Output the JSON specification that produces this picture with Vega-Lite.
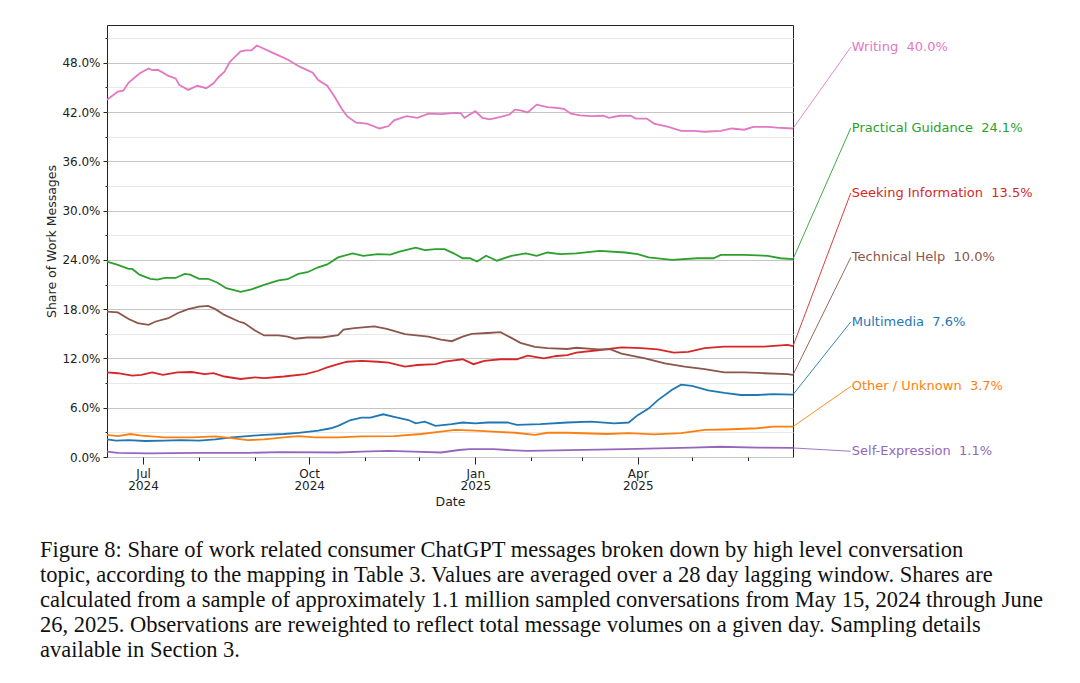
{
  "$schema": "https://vega.github.io/schema/vega-lite/v6.json",
  "width": 686,
  "height": 432,
  "autosize": {"type": "none"},
  "padding": {"left": 107, "top": 25, "right": 287, "bottom": 226},
  "background": "white",
  "config": {
    "view": {"stroke": "#222", "strokeWidth": 1},
    "font": "DejaVu Sans",
    "axis": {"labelFont": "DejaVu Sans", "titleFont": "DejaVu Sans", "labelColor": "#222", "titleColor": "#222", "tickColor": "#222", "domainColor": "#222", "titleFontWeight": "normal"}
  },
  "title": {
    "text": [
      "Figure 8: Share of work related consumer ChatGPT messages broken down by high level conversation",
      "topic, according to the mapping in Table 3. Values are averaged over a 28 day lagging window. Shares are",
      "calculated from a sample of approximately 1.1 million sampled conversations from May 15, 2024 through June",
      "26, 2025. Observations are reweighted to reflect total message volumes on a given day. Sampling details",
      "available in Section 3."
    ],
    "orient": "bottom",
    "anchor": "start",
    "frame": "group",
    "font": "Liberation Serif",
    "fontSize": 22.5,
    "fontWeight": "normal",
    "lineHeight": 25,
    "color": "#111",
    "dx": -67,
    "offset": 31
  },
  "datasets": {
    "series": [
      {"date": "2024-06-11", "topic": "Writing", "share": 43.5},
      {"date": "2024-06-17", "topic": "Writing", "share": 44.5},
      {"date": "2024-06-20", "topic": "Writing", "share": 44.6},
      {"date": "2024-06-23", "topic": "Writing", "share": 45.6},
      {"date": "2024-06-29", "topic": "Writing", "share": 46.7},
      {"date": "2024-07-04", "topic": "Writing", "share": 47.3},
      {"date": "2024-07-06", "topic": "Writing", "share": 47.1},
      {"date": "2024-07-09", "topic": "Writing", "share": 47.15},
      {"date": "2024-07-12", "topic": "Writing", "share": 46.8},
      {"date": "2024-07-15", "topic": "Writing", "share": 46.4},
      {"date": "2024-07-19", "topic": "Writing", "share": 46.1},
      {"date": "2024-07-21", "topic": "Writing", "share": 45.3},
      {"date": "2024-07-26", "topic": "Writing", "share": 44.7},
      {"date": "2024-07-31", "topic": "Writing", "share": 45.2},
      {"date": "2024-08-05", "topic": "Writing", "share": 44.9},
      {"date": "2024-08-09", "topic": "Writing", "share": 45.5},
      {"date": "2024-08-12", "topic": "Writing", "share": 46.3},
      {"date": "2024-08-15", "topic": "Writing", "share": 46.9},
      {"date": "2024-08-18", "topic": "Writing", "share": 48.1},
      {"date": "2024-08-24", "topic": "Writing", "share": 49.4},
      {"date": "2024-08-27", "topic": "Writing", "share": 49.5},
      {"date": "2024-08-30", "topic": "Writing", "share": 49.5},
      {"date": "2024-09-02", "topic": "Writing", "share": 50.1},
      {"date": "2024-09-05", "topic": "Writing", "share": 49.8},
      {"date": "2024-09-10", "topic": "Writing", "share": 49.3},
      {"date": "2024-09-14", "topic": "Writing", "share": 48.9},
      {"date": "2024-09-19", "topic": "Writing", "share": 48.4},
      {"date": "2024-09-25", "topic": "Writing", "share": 47.6},
      {"date": "2024-09-29", "topic": "Writing", "share": 47.2},
      {"date": "2024-10-03", "topic": "Writing", "share": 46.8},
      {"date": "2024-10-06", "topic": "Writing", "share": 45.9},
      {"date": "2024-10-11", "topic": "Writing", "share": 45.2},
      {"date": "2024-10-15", "topic": "Writing", "share": 43.9},
      {"date": "2024-10-19", "topic": "Writing", "share": 42.4},
      {"date": "2024-10-22", "topic": "Writing", "share": 41.5},
      {"date": "2024-10-27", "topic": "Writing", "share": 40.7},
      {"date": "2024-11-02", "topic": "Writing", "share": 40.6},
      {"date": "2024-11-09", "topic": "Writing", "share": 40.0},
      {"date": "2024-11-14", "topic": "Writing", "share": 40.3},
      {"date": "2024-11-17", "topic": "Writing", "share": 41.0},
      {"date": "2024-11-24", "topic": "Writing", "share": 41.5},
      {"date": "2024-11-30", "topic": "Writing", "share": 41.3},
      {"date": "2024-12-06", "topic": "Writing", "share": 41.8},
      {"date": "2024-12-13", "topic": "Writing", "share": 41.75},
      {"date": "2024-12-21", "topic": "Writing", "share": 41.9},
      {"date": "2024-12-24", "topic": "Writing", "share": 41.85},
      {"date": "2024-12-26", "topic": "Writing", "share": 41.3},
      {"date": "2025-01-01", "topic": "Writing", "share": 42.1},
      {"date": "2025-01-05", "topic": "Writing", "share": 41.3},
      {"date": "2025-01-09", "topic": "Writing", "share": 41.1},
      {"date": "2025-01-15", "topic": "Writing", "share": 41.4},
      {"date": "2025-01-20", "topic": "Writing", "share": 41.7},
      {"date": "2025-01-23", "topic": "Writing", "share": 42.3},
      {"date": "2025-01-26", "topic": "Writing", "share": 42.2},
      {"date": "2025-01-30", "topic": "Writing", "share": 41.95},
      {"date": "2025-02-04", "topic": "Writing", "share": 42.9},
      {"date": "2025-02-10", "topic": "Writing", "share": 42.6},
      {"date": "2025-02-15", "topic": "Writing", "share": 42.5},
      {"date": "2025-02-19", "topic": "Writing", "share": 42.4},
      {"date": "2025-02-23", "topic": "Writing", "share": 41.8},
      {"date": "2025-02-28", "topic": "Writing", "share": 41.6},
      {"date": "2025-03-06", "topic": "Writing", "share": 41.5},
      {"date": "2025-03-13", "topic": "Writing", "share": 41.55},
      {"date": "2025-03-16", "topic": "Writing", "share": 41.3},
      {"date": "2025-03-22", "topic": "Writing", "share": 41.55},
      {"date": "2025-03-28", "topic": "Writing", "share": 41.55},
      {"date": "2025-03-31", "topic": "Writing", "share": 41.2},
      {"date": "2025-04-06", "topic": "Writing", "share": 41.2},
      {"date": "2025-04-10", "topic": "Writing", "share": 40.6},
      {"date": "2025-04-18", "topic": "Writing", "share": 40.2},
      {"date": "2025-04-25", "topic": "Writing", "share": 39.7},
      {"date": "2025-05-02", "topic": "Writing", "share": 39.7},
      {"date": "2025-05-08", "topic": "Writing", "share": 39.6},
      {"date": "2025-05-17", "topic": "Writing", "share": 39.7},
      {"date": "2025-05-23", "topic": "Writing", "share": 40.0},
      {"date": "2025-05-30", "topic": "Writing", "share": 39.85},
      {"date": "2025-06-04", "topic": "Writing", "share": 40.2},
      {"date": "2025-06-12", "topic": "Writing", "share": 40.2},
      {"date": "2025-06-17", "topic": "Writing", "share": 40.1},
      {"date": "2025-06-26", "topic": "Writing", "share": 40.0},

      {"date": "2024-06-11", "topic": "Practical Guidance", "share": 23.8},
      {"date": "2024-06-17", "topic": "Practical Guidance", "share": 23.4},
      {"date": "2024-06-23", "topic": "Practical Guidance", "share": 22.9},
      {"date": "2024-06-25", "topic": "Practical Guidance", "share": 22.9},
      {"date": "2024-06-29", "topic": "Practical Guidance", "share": 22.2},
      {"date": "2024-07-05", "topic": "Practical Guidance", "share": 21.7},
      {"date": "2024-07-09", "topic": "Practical Guidance", "share": 21.6},
      {"date": "2024-07-13", "topic": "Practical Guidance", "share": 21.8},
      {"date": "2024-07-19", "topic": "Practical Guidance", "share": 21.8},
      {"date": "2024-07-24", "topic": "Practical Guidance", "share": 22.3},
      {"date": "2024-07-27", "topic": "Practical Guidance", "share": 22.2},
      {"date": "2024-08-01", "topic": "Practical Guidance", "share": 21.7},
      {"date": "2024-08-06", "topic": "Practical Guidance", "share": 21.7},
      {"date": "2024-08-11", "topic": "Practical Guidance", "share": 21.25},
      {"date": "2024-08-16", "topic": "Practical Guidance", "share": 20.55},
      {"date": "2024-08-21", "topic": "Practical Guidance", "share": 20.3},
      {"date": "2024-08-24", "topic": "Practical Guidance", "share": 20.1},
      {"date": "2024-08-30", "topic": "Practical Guidance", "share": 20.4},
      {"date": "2024-09-06", "topic": "Practical Guidance", "share": 20.95},
      {"date": "2024-09-14", "topic": "Practical Guidance", "share": 21.5},
      {"date": "2024-09-19", "topic": "Practical Guidance", "share": 21.65},
      {"date": "2024-09-25", "topic": "Practical Guidance", "share": 22.3},
      {"date": "2024-09-30", "topic": "Practical Guidance", "share": 22.5},
      {"date": "2024-10-06", "topic": "Practical Guidance", "share": 23.1},
      {"date": "2024-10-11", "topic": "Practical Guidance", "share": 23.45},
      {"date": "2024-10-17", "topic": "Practical Guidance", "share": 24.3},
      {"date": "2024-10-25", "topic": "Practical Guidance", "share": 24.8},
      {"date": "2024-10-31", "topic": "Practical Guidance", "share": 24.5},
      {"date": "2024-11-08", "topic": "Practical Guidance", "share": 24.7},
      {"date": "2024-11-15", "topic": "Practical Guidance", "share": 24.65},
      {"date": "2024-11-20", "topic": "Practical Guidance", "share": 25.0},
      {"date": "2024-11-29", "topic": "Practical Guidance", "share": 25.5},
      {"date": "2024-12-04", "topic": "Practical Guidance", "share": 25.2},
      {"date": "2024-12-10", "topic": "Practical Guidance", "share": 25.3},
      {"date": "2024-12-15", "topic": "Practical Guidance", "share": 25.3},
      {"date": "2024-12-20", "topic": "Practical Guidance", "share": 24.8},
      {"date": "2024-12-25", "topic": "Practical Guidance", "share": 24.2},
      {"date": "2024-12-29", "topic": "Practical Guidance", "share": 24.2},
      {"date": "2025-01-02", "topic": "Practical Guidance", "share": 23.8},
      {"date": "2025-01-07", "topic": "Practical Guidance", "share": 24.5},
      {"date": "2025-01-13", "topic": "Practical Guidance", "share": 23.9},
      {"date": "2025-01-21", "topic": "Practical Guidance", "share": 24.5},
      {"date": "2025-01-29", "topic": "Practical Guidance", "share": 24.8},
      {"date": "2025-02-04", "topic": "Practical Guidance", "share": 24.5},
      {"date": "2025-02-10", "topic": "Practical Guidance", "share": 24.9},
      {"date": "2025-02-17", "topic": "Practical Guidance", "share": 24.7},
      {"date": "2025-02-26", "topic": "Practical Guidance", "share": 24.8},
      {"date": "2025-03-11", "topic": "Practical Guidance", "share": 25.1},
      {"date": "2025-03-25", "topic": "Practical Guidance", "share": 24.9},
      {"date": "2025-04-01", "topic": "Practical Guidance", "share": 24.7},
      {"date": "2025-04-07", "topic": "Practical Guidance", "share": 24.3},
      {"date": "2025-04-20", "topic": "Practical Guidance", "share": 24.0},
      {"date": "2025-05-04", "topic": "Practical Guidance", "share": 24.2},
      {"date": "2025-05-13", "topic": "Practical Guidance", "share": 24.2},
      {"date": "2025-05-17", "topic": "Practical Guidance", "share": 24.6},
      {"date": "2025-05-30", "topic": "Practical Guidance", "share": 24.6},
      {"date": "2025-06-12", "topic": "Practical Guidance", "share": 24.5},
      {"date": "2025-06-19", "topic": "Practical Guidance", "share": 24.2},
      {"date": "2025-06-26", "topic": "Practical Guidance", "share": 24.1},

      {"date": "2024-06-11", "topic": "Seeking Information", "share": 10.3},
      {"date": "2024-06-17", "topic": "Seeking Information", "share": 10.2},
      {"date": "2024-06-25", "topic": "Seeking Information", "share": 9.9},
      {"date": "2024-06-30", "topic": "Seeking Information", "share": 10.0},
      {"date": "2024-07-06", "topic": "Seeking Information", "share": 10.3},
      {"date": "2024-07-12", "topic": "Seeking Information", "share": 10.0},
      {"date": "2024-07-20", "topic": "Seeking Information", "share": 10.3},
      {"date": "2024-07-28", "topic": "Seeking Information", "share": 10.35},
      {"date": "2024-08-04", "topic": "Seeking Information", "share": 10.1},
      {"date": "2024-08-09", "topic": "Seeking Information", "share": 10.2},
      {"date": "2024-08-15", "topic": "Seeking Information", "share": 9.8},
      {"date": "2024-08-24", "topic": "Seeking Information", "share": 9.5},
      {"date": "2024-09-01", "topic": "Seeking Information", "share": 9.7},
      {"date": "2024-09-06", "topic": "Seeking Information", "share": 9.6},
      {"date": "2024-09-17", "topic": "Seeking Information", "share": 9.8},
      {"date": "2024-09-29", "topic": "Seeking Information", "share": 10.1},
      {"date": "2024-10-06", "topic": "Seeking Information", "share": 10.5},
      {"date": "2024-10-11", "topic": "Seeking Information", "share": 10.9},
      {"date": "2024-10-17", "topic": "Seeking Information", "share": 11.3},
      {"date": "2024-10-22", "topic": "Seeking Information", "share": 11.6},
      {"date": "2024-10-30", "topic": "Seeking Information", "share": 11.7},
      {"date": "2024-11-08", "topic": "Seeking Information", "share": 11.6},
      {"date": "2024-11-14", "topic": "Seeking Information", "share": 11.5},
      {"date": "2024-11-23", "topic": "Seeking Information", "share": 11.0},
      {"date": "2024-11-30", "topic": "Seeking Information", "share": 11.2},
      {"date": "2024-12-10", "topic": "Seeking Information", "share": 11.3},
      {"date": "2024-12-15", "topic": "Seeking Information", "share": 11.6},
      {"date": "2024-12-25", "topic": "Seeking Information", "share": 11.9},
      {"date": "2024-12-31", "topic": "Seeking Information", "share": 11.3},
      {"date": "2025-01-06", "topic": "Seeking Information", "share": 11.7},
      {"date": "2025-01-15", "topic": "Seeking Information", "share": 11.9},
      {"date": "2025-01-24", "topic": "Seeking Information", "share": 11.9},
      {"date": "2025-01-30", "topic": "Seeking Information", "share": 12.35},
      {"date": "2025-02-08", "topic": "Seeking Information", "share": 12.0},
      {"date": "2025-02-15", "topic": "Seeking Information", "share": 12.3},
      {"date": "2025-02-21", "topic": "Seeking Information", "share": 12.4},
      {"date": "2025-02-26", "topic": "Seeking Information", "share": 12.7},
      {"date": "2025-03-10", "topic": "Seeking Information", "share": 13.0},
      {"date": "2025-03-23", "topic": "Seeking Information", "share": 13.35},
      {"date": "2025-04-03", "topic": "Seeking Information", "share": 13.25},
      {"date": "2025-04-12", "topic": "Seeking Information", "share": 13.1},
      {"date": "2025-04-21", "topic": "Seeking Information", "share": 12.7},
      {"date": "2025-04-29", "topic": "Seeking Information", "share": 12.8},
      {"date": "2025-05-08", "topic": "Seeking Information", "share": 13.25},
      {"date": "2025-05-19", "topic": "Seeking Information", "share": 13.45},
      {"date": "2025-05-30", "topic": "Seeking Information", "share": 13.45},
      {"date": "2025-06-10", "topic": "Seeking Information", "share": 13.45},
      {"date": "2025-06-23", "topic": "Seeking Information", "share": 13.65},
      {"date": "2025-06-26", "topic": "Seeking Information", "share": 13.5},

      {"date": "2024-06-11", "topic": "Technical Help", "share": 17.7},
      {"date": "2024-06-17", "topic": "Technical Help", "share": 17.6},
      {"date": "2024-06-23", "topic": "Technical Help", "share": 16.8},
      {"date": "2024-06-28", "topic": "Technical Help", "share": 16.3},
      {"date": "2024-07-04", "topic": "Technical Help", "share": 16.1},
      {"date": "2024-07-08", "topic": "Technical Help", "share": 16.5},
      {"date": "2024-07-15", "topic": "Technical Help", "share": 16.9},
      {"date": "2024-07-20", "topic": "Technical Help", "share": 17.5},
      {"date": "2024-07-26", "topic": "Technical Help", "share": 18.0},
      {"date": "2024-08-01", "topic": "Technical Help", "share": 18.3},
      {"date": "2024-08-06", "topic": "Technical Help", "share": 18.4},
      {"date": "2024-08-10", "topic": "Technical Help", "share": 18.0},
      {"date": "2024-08-15", "topic": "Technical Help", "share": 17.3},
      {"date": "2024-08-23", "topic": "Technical Help", "share": 16.5},
      {"date": "2024-08-26", "topic": "Technical Help", "share": 16.3},
      {"date": "2024-09-01", "topic": "Technical Help", "share": 15.4},
      {"date": "2024-09-06", "topic": "Technical Help", "share": 14.8},
      {"date": "2024-09-14", "topic": "Technical Help", "share": 14.8},
      {"date": "2024-09-19", "topic": "Technical Help", "share": 14.65},
      {"date": "2024-09-23", "topic": "Technical Help", "share": 14.4},
      {"date": "2024-09-30", "topic": "Technical Help", "share": 14.55},
      {"date": "2024-10-08", "topic": "Technical Help", "share": 14.55},
      {"date": "2024-10-17", "topic": "Technical Help", "share": 14.85},
      {"date": "2024-10-20", "topic": "Technical Help", "share": 15.5},
      {"date": "2024-10-26", "topic": "Technical Help", "share": 15.7},
      {"date": "2024-11-06", "topic": "Technical Help", "share": 15.9},
      {"date": "2024-11-13", "topic": "Technical Help", "share": 15.6},
      {"date": "2024-11-23", "topic": "Technical Help", "share": 14.95},
      {"date": "2024-12-06", "topic": "Technical Help", "share": 14.65},
      {"date": "2024-12-13", "topic": "Technical Help", "share": 14.3},
      {"date": "2024-12-19", "topic": "Technical Help", "share": 14.1},
      {"date": "2024-12-25", "topic": "Technical Help", "share": 14.65},
      {"date": "2024-12-30", "topic": "Technical Help", "share": 15.0},
      {"date": "2025-01-08", "topic": "Technical Help", "share": 15.1},
      {"date": "2025-01-15", "topic": "Technical Help", "share": 15.2},
      {"date": "2025-01-21", "topic": "Technical Help", "share": 14.5},
      {"date": "2025-01-26", "topic": "Technical Help", "share": 13.9},
      {"date": "2025-02-03", "topic": "Technical Help", "share": 13.4},
      {"date": "2025-02-10", "topic": "Technical Help", "share": 13.25},
      {"date": "2025-02-21", "topic": "Technical Help", "share": 13.15},
      {"date": "2025-02-26", "topic": "Technical Help", "share": 13.3},
      {"date": "2025-03-10", "topic": "Technical Help", "share": 13.1},
      {"date": "2025-03-17", "topic": "Technical Help", "share": 13.1},
      {"date": "2025-03-23", "topic": "Technical Help", "share": 12.6},
      {"date": "2025-04-05", "topic": "Technical Help", "share": 12.0},
      {"date": "2025-04-16", "topic": "Technical Help", "share": 11.4},
      {"date": "2025-04-27", "topic": "Technical Help", "share": 11.0},
      {"date": "2025-05-08", "topic": "Technical Help", "share": 10.7},
      {"date": "2025-05-19", "topic": "Technical Help", "share": 10.3},
      {"date": "2025-05-30", "topic": "Technical Help", "share": 10.3},
      {"date": "2025-06-10", "topic": "Technical Help", "share": 10.2},
      {"date": "2025-06-23", "topic": "Technical Help", "share": 10.1},
      {"date": "2025-06-26", "topic": "Technical Help", "share": 10.0},

      {"date": "2024-06-11", "topic": "Multimedia", "share": 2.15},
      {"date": "2024-06-16", "topic": "Multimedia", "share": 2.0},
      {"date": "2024-06-23", "topic": "Multimedia", "share": 2.05},
      {"date": "2024-07-02", "topic": "Multimedia", "share": 1.95},
      {"date": "2024-07-13", "topic": "Multimedia", "share": 2.0},
      {"date": "2024-07-22", "topic": "Multimedia", "share": 2.05},
      {"date": "2024-08-01", "topic": "Multimedia", "share": 2.0},
      {"date": "2024-08-10", "topic": "Multimedia", "share": 2.15},
      {"date": "2024-08-19", "topic": "Multimedia", "share": 2.4},
      {"date": "2024-08-28", "topic": "Multimedia", "share": 2.55},
      {"date": "2024-09-06", "topic": "Multimedia", "share": 2.7},
      {"date": "2024-09-17", "topic": "Multimedia", "share": 2.8},
      {"date": "2024-09-25", "topic": "Multimedia", "share": 2.95},
      {"date": "2024-10-06", "topic": "Multimedia", "share": 3.2},
      {"date": "2024-10-13", "topic": "Multimedia", "share": 3.5},
      {"date": "2024-10-17", "topic": "Multimedia", "share": 3.8},
      {"date": "2024-10-24", "topic": "Multimedia", "share": 4.5},
      {"date": "2024-10-30", "topic": "Multimedia", "share": 4.8},
      {"date": "2024-11-04", "topic": "Multimedia", "share": 4.8},
      {"date": "2024-11-11", "topic": "Multimedia", "share": 5.2},
      {"date": "2024-11-17", "topic": "Multimedia", "share": 4.9},
      {"date": "2024-11-25", "topic": "Multimedia", "share": 4.5},
      {"date": "2024-11-29", "topic": "Multimedia", "share": 4.1},
      {"date": "2024-12-04", "topic": "Multimedia", "share": 4.3},
      {"date": "2024-12-10", "topic": "Multimedia", "share": 3.8},
      {"date": "2024-12-19", "topic": "Multimedia", "share": 4.0},
      {"date": "2024-12-25", "topic": "Multimedia", "share": 4.2},
      {"date": "2025-01-01", "topic": "Multimedia", "share": 4.1},
      {"date": "2025-01-08", "topic": "Multimedia", "share": 4.2},
      {"date": "2025-01-19", "topic": "Multimedia", "share": 4.2},
      {"date": "2025-01-24", "topic": "Multimedia", "share": 3.9},
      {"date": "2025-02-06", "topic": "Multimedia", "share": 4.0},
      {"date": "2025-02-21", "topic": "Multimedia", "share": 4.2},
      {"date": "2025-03-06", "topic": "Multimedia", "share": 4.3},
      {"date": "2025-03-19", "topic": "Multimedia", "share": 4.1},
      {"date": "2025-03-27", "topic": "Multimedia", "share": 4.2},
      {"date": "2025-04-01", "topic": "Multimedia", "share": 5.1},
      {"date": "2025-04-07", "topic": "Multimedia", "share": 5.9},
      {"date": "2025-04-12", "topic": "Multimedia", "share": 6.9},
      {"date": "2025-04-20", "topic": "Multimedia", "share": 8.2},
      {"date": "2025-04-25", "topic": "Multimedia", "share": 8.8},
      {"date": "2025-05-01", "topic": "Multimedia", "share": 8.65},
      {"date": "2025-05-10", "topic": "Multimedia", "share": 8.1},
      {"date": "2025-05-19", "topic": "Multimedia", "share": 7.8},
      {"date": "2025-05-28", "topic": "Multimedia", "share": 7.55},
      {"date": "2025-06-06", "topic": "Multimedia", "share": 7.55},
      {"date": "2025-06-15", "topic": "Multimedia", "share": 7.65},
      {"date": "2025-06-26", "topic": "Multimedia", "share": 7.6},

      {"date": "2024-06-11", "topic": "Other / Unknown", "share": 2.7},
      {"date": "2024-06-17", "topic": "Other / Unknown", "share": 2.55},
      {"date": "2024-06-24", "topic": "Other / Unknown", "share": 2.8},
      {"date": "2024-06-30", "topic": "Other / Unknown", "share": 2.6},
      {"date": "2024-07-13", "topic": "Other / Unknown", "share": 2.4},
      {"date": "2024-07-28", "topic": "Other / Unknown", "share": 2.4},
      {"date": "2024-08-10", "topic": "Other / Unknown", "share": 2.5},
      {"date": "2024-08-19", "topic": "Other / Unknown", "share": 2.3},
      {"date": "2024-08-28", "topic": "Other / Unknown", "share": 2.05},
      {"date": "2024-09-06", "topic": "Other / Unknown", "share": 2.15},
      {"date": "2024-09-17", "topic": "Other / Unknown", "share": 2.4},
      {"date": "2024-09-25", "topic": "Other / Unknown", "share": 2.55},
      {"date": "2024-10-04", "topic": "Other / Unknown", "share": 2.4},
      {"date": "2024-10-17", "topic": "Other / Unknown", "share": 2.4},
      {"date": "2024-10-30", "topic": "Other / Unknown", "share": 2.5},
      {"date": "2024-11-17", "topic": "Other / Unknown", "share": 2.55},
      {"date": "2024-12-02", "topic": "Other / Unknown", "share": 2.8},
      {"date": "2024-12-13", "topic": "Other / Unknown", "share": 3.1},
      {"date": "2024-12-21", "topic": "Other / Unknown", "share": 3.3},
      {"date": "2025-01-01", "topic": "Other / Unknown", "share": 3.2},
      {"date": "2025-01-11", "topic": "Other / Unknown", "share": 3.1},
      {"date": "2025-01-23", "topic": "Other / Unknown", "share": 2.95},
      {"date": "2025-02-03", "topic": "Other / Unknown", "share": 2.7},
      {"date": "2025-02-10", "topic": "Other / Unknown", "share": 2.95},
      {"date": "2025-02-21", "topic": "Other / Unknown", "share": 2.95},
      {"date": "2025-03-15", "topic": "Other / Unknown", "share": 2.8},
      {"date": "2025-03-27", "topic": "Other / Unknown", "share": 2.9},
      {"date": "2025-04-10", "topic": "Other / Unknown", "share": 2.75},
      {"date": "2025-04-25", "topic": "Other / Unknown", "share": 2.9},
      {"date": "2025-05-08", "topic": "Other / Unknown", "share": 3.3},
      {"date": "2025-05-19", "topic": "Other / Unknown", "share": 3.35},
      {"date": "2025-06-06", "topic": "Other / Unknown", "share": 3.5},
      {"date": "2025-06-15", "topic": "Other / Unknown", "share": 3.7},
      {"date": "2025-06-26", "topic": "Other / Unknown", "share": 3.7},

      {"date": "2024-06-11", "topic": "Self-Expression", "share": 0.65},
      {"date": "2024-06-17", "topic": "Self-Expression", "share": 0.5},
      {"date": "2024-07-04", "topic": "Self-Expression", "share": 0.45},
      {"date": "2024-08-01", "topic": "Self-Expression", "share": 0.5},
      {"date": "2024-08-28", "topic": "Self-Expression", "share": 0.5},
      {"date": "2024-09-15", "topic": "Self-Expression", "share": 0.6},
      {"date": "2024-10-17", "topic": "Self-Expression", "share": 0.55},
      {"date": "2024-10-30", "topic": "Self-Expression", "share": 0.65},
      {"date": "2024-11-14", "topic": "Self-Expression", "share": 0.75},
      {"date": "2024-11-28", "topic": "Self-Expression", "share": 0.65},
      {"date": "2024-12-13", "topic": "Self-Expression", "share": 0.55},
      {"date": "2024-12-23", "topic": "Self-Expression", "share": 0.85},
      {"date": "2024-12-29", "topic": "Self-Expression", "share": 0.95},
      {"date": "2025-01-11", "topic": "Self-Expression", "share": 0.95},
      {"date": "2025-01-19", "topic": "Self-Expression", "share": 0.85},
      {"date": "2025-01-30", "topic": "Self-Expression", "share": 0.75},
      {"date": "2025-02-15", "topic": "Self-Expression", "share": 0.8},
      {"date": "2025-03-25", "topic": "Self-Expression", "share": 0.95},
      {"date": "2025-05-01", "topic": "Self-Expression", "share": 1.15},
      {"date": "2025-05-17", "topic": "Self-Expression", "share": 1.25},
      {"date": "2025-06-06", "topic": "Self-Expression", "share": 1.15},
      {"date": "2025-06-26", "topic": "Self-Expression", "share": 1.1}
    ],
    "labels": [
      {"topic": "Writing", "label": "Writing \u00a040.0%", "end_date": "2025-06-26", "end_share": 40.0, "label_date": "2025-07-28", "label_share": 49.9},
      {"topic": "Practical Guidance", "label": "Practical Guidance \u00a024.1%", "end_date": "2025-06-26", "end_share": 24.1, "label_date": "2025-07-28", "label_share": 40.05},
      {"topic": "Seeking Information", "label": "Seeking Information \u00a013.5%", "end_date": "2025-06-26", "end_share": 13.5, "label_date": "2025-07-28", "label_share": 32.15},
      {"topic": "Technical Help", "label": "Technical Help \u00a010.0%", "end_date": "2025-06-26", "end_share": 10.0, "label_date": "2025-07-28", "label_share": 24.3},
      {"topic": "Multimedia", "label": "Multimedia \u00a07.6%", "end_date": "2025-06-26", "end_share": 7.6, "label_date": "2025-07-28", "label_share": 16.45},
      {"topic": "Other / Unknown", "label": "Other / Unknown \u00a03.7%", "end_date": "2025-06-26", "end_share": 3.7, "label_date": "2025-07-28", "label_share": 8.6},
      {"topic": "Self-Expression", "label": "Self-Expression \u00a01.1%", "end_date": "2025-06-26", "end_share": 1.1, "label_date": "2025-07-28", "label_share": 0.7}
    ]
  },
  "resolve": {"axis": {"x": "independent", "y": "independent"}},
  "layer": [
    {
      "data": {"name": "series"},
      "mark": {"type": "line", "strokeWidth": 1.8, "interpolate": "linear"},
      "encoding": {
        "x": {
          "field": "date", "type": "temporal",
          "scale": {"type": "utc", "domain": [{"year": 2024, "month": 6, "date": 11, "utc": true}, {"year": 2025, "month": 6, "date": 26, "utc": true}], "nice": false},
          "axis": {
            "orient": "bottom",
            "title": "Date", "titleFontSize": 12.5, "titlePadding": 4,
            "values": [
              {"year": 2024, "month": 7, "date": 1, "utc": true},
              {"year": 2024, "month": 10, "date": 1, "utc": true},
              {"year": 2025, "month": 1, "date": 1, "utc": true},
              {"year": 2025, "month": 4, "date": 1, "utc": true}
            ],
            "labelExpr": "[utcFormat(datum.value, '%b'), utcFormat(datum.value, '%Y')]",
            "labelFontSize": 12, "labelLineHeight": 12, "labelPadding": 4,
            "tickSize": 7, "grid": false, "domain": false
          }
        },
        "y": {
          "field": "share", "type": "quantitative",
          "scale": {"domain": [0, 52.6], "nice": false, "zero": true},
          "axis": {
            "orient": "left",
            "title": "Share of Work Messages", "titleFontSize": 12.5, "titlePadding": 3,
            "values": [0, 6, 12, 18, 24, 30, 36, 42, 48],
            "labelExpr": "format(datum.value, '.1f') + '%'",
            "labelFontSize": 12, "labelPadding": 3,
            "tickSize": 4, "grid": true, "gridColor": "#c4c4c4", "gridWidth": 1, "domain": false
          }
        },
        "color": {
          "field": "topic", "type": "nominal", "legend": null,
          "scale": {
            "domain": ["Multimedia", "Other / Unknown", "Practical Guidance", "Seeking Information", "Self-Expression", "Technical Help", "Writing"],
            "range": ["#1f77b4", "#ff7f0e", "#2ca02c", "#d62728", "#9467bd", "#8c564b", "#e377c2"]
          }
        }
      }
    },
    {
      "data": {"name": "labels"},
      "mark": {"type": "rule", "strokeWidth": 0.9},
      "encoding": {
        "x": {
          "field": "end_date", "type": "temporal",
          "scale": {"type": "utc", "domain": [{"year": 2024, "month": 6, "date": 11, "utc": true}, {"year": 2025, "month": 6, "date": 26, "utc": true}], "nice": false},
          "axis": {
            "orient": "bottom", "title": null, "labels": false, "domain": false, "grid": false, "tickSize": 3.5,
            "values": [
              {"year": 2024, "month": 8, "date": 1, "utc": true},
              {"year": 2024, "month": 9, "date": 1, "utc": true},
              {"year": 2024, "month": 11, "date": 1, "utc": true},
              {"year": 2024, "month": 12, "date": 1, "utc": true},
              {"year": 2025, "month": 2, "date": 1, "utc": true},
              {"year": 2025, "month": 3, "date": 1, "utc": true},
              {"year": 2025, "month": 5, "date": 1, "utc": true},
              {"year": 2025, "month": 6, "date": 1, "utc": true}
            ]
          }
        },
        "x2": {"field": "label_date"},
        "y": {
          "field": "end_share", "type": "quantitative",
          "scale": {"domain": [0, 52.6], "nice": false},
          "axis": {
            "orient": "left", "title": null, "labels": false, "domain": false, "tickSize": 2,
            "values": [3, 9, 15, 21, 27, 33, 39, 45, 51],
            "grid": true, "gridColor": "#e8e8e8", "gridWidth": 1
          }
        },
        "y2": {"field": "label_share"},
        "color": {"field": "topic", "type": "nominal", "legend": null}
      }
    },
    {
      "data": {"name": "labels"},
      "mark": {"type": "text", "align": "left", "baseline": "middle", "fontSize": 13, "font": "DejaVu Sans", "dx": 1},
      "encoding": {
        "x": {"field": "label_date", "type": "temporal", "axis": null},
        "y": {"field": "label_share", "type": "quantitative", "axis": null},
        "text": {"field": "label"},
        "color": {"field": "topic", "type": "nominal", "legend": null}
      }
    }
  ]
}
